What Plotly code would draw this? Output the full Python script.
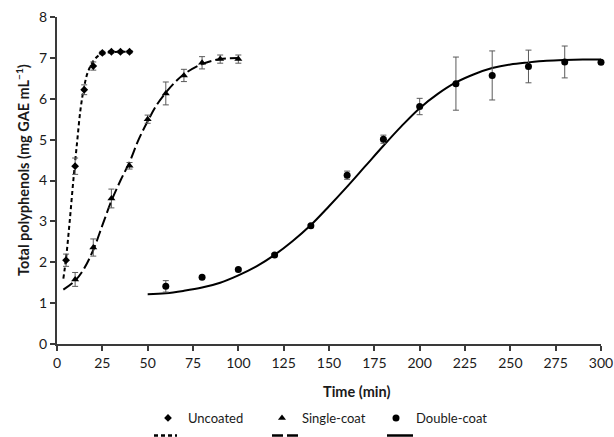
import plotly.graph_objects as go

# ---- measured data ----
t_uncoated = [5, 10, 15, 20, 25, 30, 35, 40]
y_uncoated = [2.05, 4.35, 6.22, 6.80, 7.12, 7.15, 7.15, 7.15]
e_uncoated = [0.15, 0.20, 0.12, 0.10, 0.04, 0.03, 0.03, 0.03]

t_single = [10, 20, 30, 40, 50, 60, 70, 80, 90, 100]
y_single = [1.58, 2.36, 3.56, 4.36, 5.50, 6.13, 6.57, 6.88, 6.97, 6.97]
e_single = [0.17, 0.21, 0.23, 0.08, 0.10, 0.28, 0.15, 0.15, 0.10, 0.10]

t_double = [60, 80, 100, 120, 140, 160, 180, 200, 220, 240, 260, 280, 300]
y_double = [1.41, 1.63, 1.82, 2.18, 2.89, 4.13, 5.01, 5.81, 6.37, 6.57, 6.79, 6.90, 6.89]
e_double = [0.14, 0.03, 0.03, 0.03, 0.03, 0.10, 0.10, 0.20, 0.65, 0.60, 0.40, 0.39, 0.03]

# ---- fitted curves ----
tc_uncoated = [3.5, 5, 7, 9, 11, 13, 15, 17, 20, 23, 26, 30, 35, 40]
yc_uncoated = [1.60, 2.10, 3.00, 4.00, 4.90, 5.75, 6.30, 6.65, 6.92, 7.06, 7.12, 7.14, 7.15, 7.15]

tc_single = [3.5, 10, 15, 20, 25, 30, 35, 40, 45, 50, 55, 60, 65, 70, 80, 90, 100]
yc_single = [1.33, 1.55, 1.85, 2.30, 2.90, 3.50, 4.00, 4.45, 5.00, 5.45, 5.85, 6.15, 6.40, 6.60, 6.85, 6.97, 7.00]

tc_double = [50, 60, 70, 80, 90, 100, 110, 120, 130, 140, 150, 160, 170, 180, 190,
             200, 210, 220, 230, 240, 250, 260, 270, 280, 290, 300]
yc_double = [1.22, 1.24, 1.30, 1.38, 1.50, 1.68, 1.90, 2.18, 2.52, 2.91, 3.37, 3.85, 4.35,
             4.85, 5.33, 5.77, 6.12, 6.40, 6.60, 6.75, 6.84, 6.89, 6.93, 6.95, 6.96, 6.96]

x_ticks = [0, 25, 50, 75, 100, 125, 150, 175, 200, 225, 250, 275, 300]
y_ticks = [0, 1, 2, 3, 4, 5, 6, 7, 8]

FONT = "Lato"
INK = "#1a1a1a"
AX = "#3a3a3a"
ERR = "#5a5a5a"

DASHES = ["4px,3px", "11px,4px", "solid"]

fig = go.Figure()

# fitted curves
for tc, yc, dash in zip([tc_uncoated, tc_single, tc_double],
                        [yc_uncoated, yc_single, yc_double], DASHES):
    fig.add_trace(go.Scatter(x=tc, y=yc, mode="lines", line_shape="spline",
                             line=dict(color="black", width=2, dash=dash),
                             showlegend=False, cliponaxis=False, hoverinfo="skip"))

# measured points
for t, y, e, sym, sz, nm in [(t_uncoated, y_uncoated, e_uncoated, "diamond", 6, "Uncoated"),
                             (t_single, y_single, e_single, "triangle-up", 7, "Single-coat"),
                             (t_double, y_double, e_double, "circle", 7, "Double-coat")]:
    fig.add_trace(go.Scatter(x=t, y=y, mode="markers", name=nm,
                             marker=dict(symbol=sym, size=sz, color="black"),
                             error_y=dict(type="data", array=e, visible=True,
                                          color=ERR, thickness=1, width=3),
                             cliponaxis=False))

# plot area in pixels: x 57..601, y 17..344
PW, PH = 544, 327


def px(x):
    return (x - 57) / PW


def py(y):
    return (344 - y) / PH


# second (cropped) legend row: line samples of the fitted curves
for (x0, x1), dash in zip([(154, 177), (272, 298), (387, 413)], DASHES):
    fig.add_shape(type="line", xref="paper", yref="paper", x0=px(x0), x1=px(x1),
                  y0=py(435.5), y1=py(435.5),
                  line=dict(color="black", width=2.5, dash=dash))

TITLE_FONT = dict(family=FONT, size=14.5, color=INK)

fig.add_annotation(text="<b>Time (min)</b>", xref="paper", yref="paper",
                   x=px(356), y=py(391), showarrow=False,
                   xanchor="center", yanchor="middle", font=TITLE_FONT)
fig.add_annotation(text="<b>Total polyphenols (mg GAE mL<sup>\u22121</sup>)</b>",
                   xref="paper", yref="paper", textangle=-90,
                   x=px(22), y=py(170), showarrow=False,
                   xanchor="center", yanchor="middle", font=TITLE_FONT)

fig.update_layout(
    width=614, height=437,
    margin=dict(l=57, r=13, t=17, b=93, autoexpand=False),
    paper_bgcolor="white", plot_bgcolor="white",
    font=dict(family=FONT, size=14, color=INK),
    legend=dict(orientation="h", x=px(148), xanchor="left",
                y=py(403), yanchor="top",
                entrywidth=69, entrywidthmode="pixels",
                font=dict(family=FONT, size=13, color=INK),
                bgcolor="rgba(0,0,0,0)", itemwidth=30),
    xaxis=dict(range=[0, 300], tickvals=x_ticks, ticktext=[str(v) for v in x_ticks],
               showgrid=False, zeroline=False, showline=True, linecolor=AX, linewidth=2,
               ticks="outside", ticklen=5, tickwidth=2, tickcolor=AX,
               ticklabeloverflow="allow",
               tickfont=dict(family=FONT, size=14, color=INK), automargin=False),
    yaxis=dict(range=[0, 8], tickvals=y_ticks, ticktext=[str(v) for v in y_ticks],
               showgrid=False, zeroline=False, showline=True, linecolor=AX, linewidth=2,
               ticks="outside", ticklen=5, tickwidth=2, tickcolor=AX,
               ticklabeloverflow="allow",
               tickfont=dict(family=FONT, size=14, color=INK), automargin=False),
    showlegend=True,
)

fig.write_html("out.html", config={"displayModeBar": False},
               post_script="document.body.style.margin='0';document.body.style.overflow='hidden';")
